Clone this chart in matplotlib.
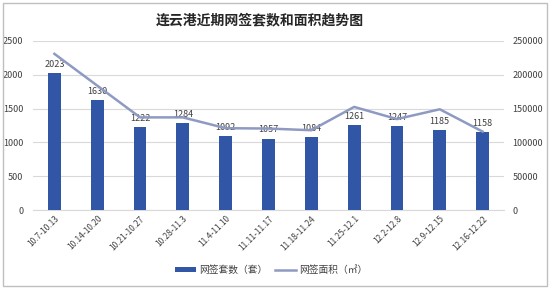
import matplotlib
matplotlib.use("Agg")
import matplotlib.pyplot as plt
from matplotlib.lines import Line2D
from matplotlib.patches import Patch, Rectangle

plt.rcParams['font.family'] = ['Noto Sans CJK SC', 'DejaVu Sans']

categories = ["10.7-10.13", "10.14-10.20", "10.21-10.27", "10.28-11.3", "11.4-11.10",
              "11.11-11.17", "11.18-11.24", "11.25-12.1", "12.2-12.8", "12.9-12.15", "12.16-12.22"]
counts = [2023, 1630, 1222, 1284, 1092, 1057, 1084, 1261, 1247, 1185, 1158]
areas = [231000, 184000, 137000, 137000, 121000, 120500, 118000, 152500, 134500, 149000, 116000]
left_ticks = [0, 500, 1000, 1500, 2000, 2500]
right_ticks = [0, 50000, 100000, 150000, 200000, 250000]

W, H = 550, 289
fig = plt.figure(figsize=(W / 100, H / 100), dpi=100)
ax = fig.add_axes([33 / W, 1 - 210 / H, (504 - 33) / W, (210 - 41) / H])
ax2 = ax.twinx()

bar_color = "#3056A5"
line_color = "#8E9AC2"
text_color = "#404040"

x = list(range(len(categories)))
ax.bar(x, counts, width=0.3, color=bar_color, zorder=3)
for xi, v in zip(x, counts):
    ax.annotate(str(v), (xi, v), xytext=(0, 3), textcoords="offset points",
                ha="center", va="bottom", fontsize=6.5, color=text_color, zorder=5)

ax2.plot(x, areas, color=line_color, lw=1.8, zorder=4)

ax.set_xlim(-0.5, len(categories) - 0.5)
ax.set_ylim(0, 2500)
ax2.set_ylim(0, 250000)
ax.set_yticks(left_ticks)
ax2.set_yticks(right_ticks)
ax.set_xticks(x)
ax.set_xticklabels(categories, rotation=45, ha="right", rotation_mode="anchor",
                   fontsize=6, color=text_color)
ax.tick_params(axis="y", length=0, pad=7, labelsize=6.5, labelcolor=text_color)
ax2.tick_params(axis="y", length=0, pad=6, labelsize=6.5, labelcolor=text_color)
ax.tick_params(axis="x", length=0, pad=3)

ax.grid(axis="y", color="#D9D9D9", lw=0.8, zorder=0)
ax.set_axisbelow(True)
for a in (ax, ax2):
    for s in a.spines.values():
        s.set_visible(False)
ax.spines["bottom"].set_visible(True)
ax.spines["bottom"].set_color("#D9D9D9")

ax.set_zorder(ax2.get_zorder() - 1)
ax.patch.set_visible(False)

fig.text(260 / W, 1 - 20 / H, "连云港近期网签套数和面积趋势图", ha="center", va="center",
         fontsize=10, fontweight="bold", color="#262626")

handles = [Patch(facecolor=bar_color, edgecolor="none"),
           Line2D([0], [0], color=line_color, lw=1.8)]
fig.legend(handles, ["网签套数（套）", "网签面积（㎡）"], loc="center",
           bbox_to_anchor=(271 / W, 1 - 270 / H), ncol=2, frameon=False,
           fontsize=7, handlelength=2.2, handleheight=0.5, columnspacing=0.8,
           handletextpad=0.3, labelcolor=text_color)

fig.patches.append(Rectangle((3 / W, 3 / H), (W - 6) / W, (H - 6) / H,
                             transform=fig.transFigure, fill=False,
                             edgecolor="#BFBFBF", lw=1))

fig.savefig("out.png", dpi=100)
